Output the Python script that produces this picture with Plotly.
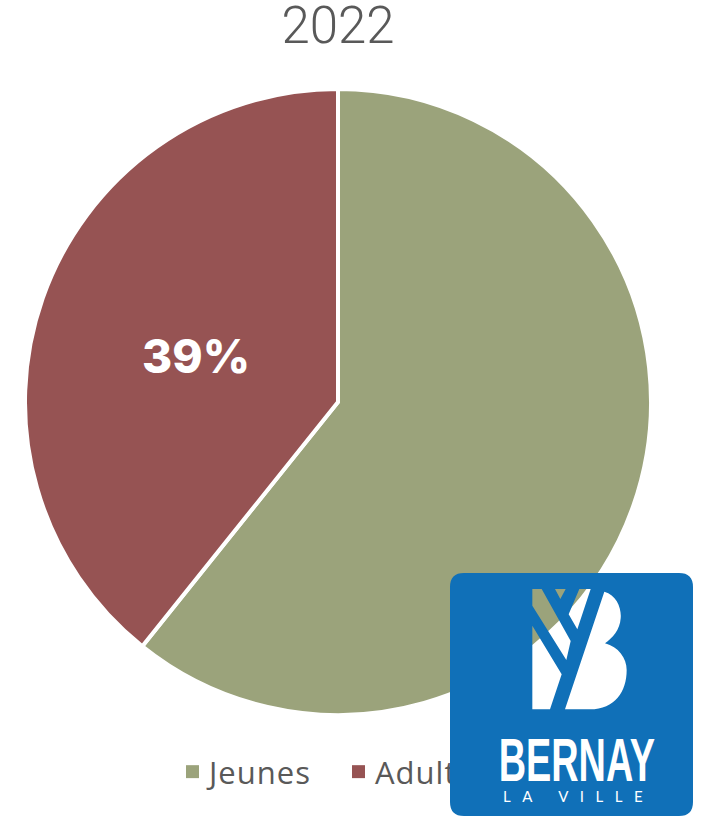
import plotly.graph_objects as go

W, H = 705, 821

categories = ["Jeunes", "Adultes"]
values = [60.75, 39.25]
data_labels = ["", "39%"]
colors = ["#9BA37B", "#965353"]
chart_title = "2022"
logo_word = "BERNAY"
logo_sub = "LA VILLE"

GREY = "#595959"
BLUE = "#1070B8"


def px(x):
    return f"{x / W:.5f}"


def py(y):
    return f"{1 - y / H:.5f}"


def P(x, y):
    return f"{px(x)},{py(y)}"


def Z(zx, zy):
    return P(525 + zx / 3, 580 + zy / 3)


def poly(points):
    return "M" + " L".join(Z(*p) for p in points) + " Z"


L, T, R, B, r = 450, 573, 693, 816, 14
logo_box = (
    f"M{P(L + r, T)} L{P(R - r, T)} Q{P(R, T)} {P(R, T + r)} "
    f"L{P(R, B - r)} Q{P(R, B)} {P(R - r, B)} L{P(L + r, B)} "
    f"Q{P(L, B)} {P(L, B - r)} L{P(L, T + r)} Q{P(L, T)} {P(L + r, T)} Z"
)
holes = [
    poly([(22, 27), (50, 27), (137, 183), (124, 240), (22, 77)]),
    poly([(22, 137), (110, 283), (75, 388), (22, 388)]),
    poly([(90, 27), (122, 27), (106, 57)]),
    poly([(163, 27), (197, 27), (157, 148), (131, 103)]),
    (
        f"M{Z(238, 35)} C{Z(275, 45)} {Z(290, 85)} {Z(287, 115)} "
        f"C{Z(285, 150)} {Z(262, 175)} {Z(240, 190)} "
        f"C{Z(280, 200)} {Z(305, 235)} {Z(305, 270)} "
        f"C{Z(305, 335)} {Z(270, 388)} {Z(195, 388)} L{Z(120, 388)} Z"
    ),
]
logo_path = logo_box + " " + " ".join(holes)

fig = go.Figure(
    go.Pie(
        labels=categories,
        values=values,
        text=data_labels,
        textinfo="text",
        textposition="inside",
        insidetextorientation="horizontal",
        insidetextfont=dict(family="Inter", size=46, color="white", weight=800),
        sort=False,
        direction="clockwise",
        rotation=0,
        marker=dict(colors=colors, line=dict(color="white", width=4)),
        domain=dict(x=[25 / W, 651 / W], y=[1 - 715 / H, 1 - 89 / H]),
        hoverinfo="skip",
    )
)

fig.update_layout(
    width=W,
    height=H,
    margin=dict(l=0, r=0, t=0, b=0),
    paper_bgcolor="white",
    title=dict(
        text=chart_title,
        x=338 / W,
        xanchor="center",
        y=1 - 25 / H,
        yanchor="middle",
        font=dict(family="Roboto", size=51, color=GREY, weight=300),
    ),
    showlegend=True,
    legend=dict(
        orientation="h",
        x=169 / W,
        xanchor="left",
        y=1 - 772 / H,
        yanchor="middle",
        font=dict(family="Open Sans", size=31, color=GREY, weight=400),
        traceorder="normal",
        entrywidth=121,
        entrywidthmode="pixels",
    ),
    shapes=[
        dict(
            type="path",
            xref="paper",
            yref="paper",
            path=logo_path,
            fillcolor=BLUE,
            fillrule="evenodd",
            line=dict(width=0),
            layer="above",
        )
    ],
    annotations=[
        dict(
            text=f"<b>{logo_word}</b>",
            x=577 / W,
            y=1 - 759 / H,
            xref="paper",
            yref="paper",
            xanchor="center",
            yanchor="middle",
            showarrow=False,
            font=dict(family="Liberation Sans", size=44, color="white"),
        ),
        dict(
            text=logo_sub,
            x=578 / W,
            y=1 - 796 / H,
            xref="paper",
            yref="paper",
            xanchor="center",
            yanchor="middle",
            showarrow=False,
            font=dict(family="Lato", size=15, color="white", weight=400),
        ),
    ],
)

# Page margin removed; the logo sits in front of the legend, so the legend moves
# below the logo layer; the wordmark takes the logo's tall condensed proportions.
post = """
document.body.style.margin = '0';
var gd = document.getElementById('{plot_id}');
var legend = gd.querySelector('.infolayer .legend');
var uppers = gd.querySelectorAll('.shapelayer');
var upper = uppers[uppers.length - 1];
if (legend && upper) { upper.parentNode.insertBefore(legend, upper); }
gd.querySelectorAll('.legendpie').forEach(function (s) {
  s.setAttribute('transform', 'translate(23.5,0) scale(1.08)');
  s.querySelectorAll('path').forEach(function (p) { p.style.strokeWidth = '0'; });
  s.style.strokeWidth = '0';
});
gd.querySelectorAll('.legendtext').forEach(function (t) {
  t.style.letterSpacing = '1px';
});
gd.querySelectorAll('text.slicetext').forEach(function (t) {
  var old = t.getAttribute('transform') || '';
  t.setAttribute('transform', 'translate(10,7) ' + old);
});
gd.querySelectorAll('.annotation-text').forEach(function (t) {
  if (t.textContent.indexOf('BERNAY') !== -1) {
    var b = t.getBBox(), cx = b.x + b.width / 2, cy = b.y + b.height / 2;
    t.setAttribute('transform', 'translate(' + cx + ',' + cy + ') scale(0.86,1.38) translate(' + (-cx) + ',' + (-cy) + ')');
  } else if (t.textContent.indexOf('LA VILLE') !== -1) {
    t.style.letterSpacing = '11.5px';
  }
});
"""

fig.write_html("out.html", post_script=post, config={"displayModeBar": False})
